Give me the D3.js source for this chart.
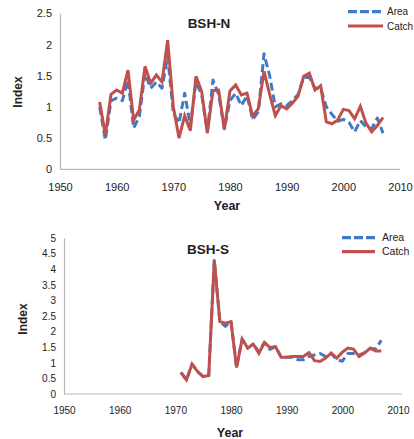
<!DOCTYPE html>
<html><head><meta charset="utf-8">
<script src="https://cdn.jsdelivr.net/npm/d3@7"></script>
<style>
html,body{margin:0;padding:0;background:#fff;}
svg{display:block;}
text{font-family:"Liberation Sans",Arial,sans-serif;fill:#222;}
</style></head>
<body>
<svg id="c" width="414" height="439"></svg>
<script>
// ---- Data ----
const yearsN = d3.range(1957, 2008);
const areaN = [1.00,0.47,1.10,1.14,1.10,1.43,0.66,0.85,1.54,1.30,1.40,1.30,1.81,0.90,0.74,1.22,0.70,1.40,1.20,0.60,1.43,1.20,0.65,1.10,1.22,1.02,1.18,0.80,0.92,1.85,1.50,1.00,1.05,1.02,1.10,1.20,1.47,1.47,1.30,1.30,1.00,0.88,0.77,0.80,0.75,0.60,0.78,0.68,0.65,0.82,0.58];
const catchN = [1.08,0.55,1.20,1.27,1.22,1.59,0.79,0.95,1.65,1.38,1.51,1.40,2.07,1.00,0.50,0.86,0.62,1.49,1.25,0.58,1.26,1.27,0.64,1.26,1.35,1.19,1.22,0.85,0.97,1.57,1.20,0.86,1.02,0.97,1.06,1.17,1.49,1.54,1.27,1.34,0.76,0.73,0.79,0.96,0.94,0.81,1.01,0.74,0.60,0.70,0.83];

const yearsS = d3.range(1971, 2008);
const areaS = [0.69,0.45,0.96,0.72,0.56,0.59,4.28,2.32,2.17,2.32,0.85,1.76,1.47,1.60,1.35,1.65,1.43,1.52,1.18,1.18,1.18,1.10,1.10,1.20,1.25,1.30,1.20,1.30,1.10,1.05,1.30,1.30,1.25,1.33,1.45,1.45,1.72];
const catchS = [0.69,0.45,0.96,0.72,0.56,0.59,4.28,2.32,2.27,2.32,0.85,1.76,1.47,1.60,1.30,1.65,1.49,1.52,1.18,1.18,1.20,1.20,1.20,1.33,1.07,1.04,1.15,1.31,1.15,1.34,1.47,1.44,1.20,1.31,1.47,1.38,1.38];

const xTicks = [1950,1960,1970,1980,1990,2000,2010];
const yTicksN = [0,0.5,1,1.5,2,2.5];
const yTicksS = [0,0.5,1,1.5,2,2.5,3,3.5,4,4.5,5];
const seriesNames = ["Area","Catch"];

const BLUE = "#4279c4", RED = "#c0504d", AXIS = "#b8b8b8";
const svg = d3.select("#c");

function panel(cfg){
  const g = svg.append("g");
  const x = d3.scaleLinear().domain([1950,2010]).range([cfg.x0,cfg.x1]);
  const y = d3.scaleLinear().domain([0,cfg.ymax]).range([cfg.y0,cfg.y1]);
  const xa = g.append("g").attr("transform",`translate(0,${cfg.y0})`)
    .call(d3.axisBottom(x).tickValues(xTicks).tickSize(0).tickPadding(cfg.xpad).tickFormat(d3.format("d")));
  xa.select(".domain").attr("stroke",AXIS).attr("stroke-width",1.2).attr("d",`M${cfg.x0},0H${cfg.xend}`);
  xa.selectAll("text").style("font-size",cfg.tickFont+"px").attr("fill","#222");
  const ya = g.append("g").attr("transform",`translate(${cfg.x0},0)`)
    .call(d3.axisLeft(y).tickValues(cfg.yTicks).tickSize(0).tickPadding(cfg.ypad).tickFormat(d=>String(d)));
  ya.select(".domain").attr("stroke",AXIS).attr("stroke-width",1.2);
  ya.selectAll("text").style("font-size",cfg.tickFont+"px").attr("fill","#222");

  const line = d3.line().x(d=>x(d[0])).y(d=>y(d[1]));
  g.append("path").datum(cfg.years.map((yr,i)=>[yr,cfg.area[i]]))
    .attr("d",line).attr("fill","none").attr("stroke",BLUE).attr("stroke-width",3)
    .attr("stroke-dasharray","8,4").attr("stroke-linejoin","round");
  g.append("path").datum(cfg.years.map((yr,i)=>[yr,cfg.catch_[i]]))
    .attr("d",line).attr("fill","none").attr("stroke",RED).attr("stroke-width",3)
    .attr("stroke-linejoin","miter");

  g.append("text").attr("x",cfg.titleX).attr("y",cfg.titleY).attr("text-anchor","middle")
    .style("font-size","13.5px").style("font-weight","bold").text(cfg.title);
  g.append("text").attr("x",cfg.yearX).attr("y",cfg.yearY).attr("text-anchor","middle")
    .style("font-size","12.5px").style("font-weight","bold").text("Year");
  g.append("text").attr("transform",`translate(${cfg.idxX},${cfg.idxY}) rotate(-90)`).attr("text-anchor","middle")
    .attr("dy","0.35em").style("font-size","12px").style("font-weight","bold").text("Index");

  const lg = g.append("g");
  seriesNames.forEach((nm,i)=>{
    const ly = cfg.legY + i*cfg.legStep;
    lg.append("line").attr("x1",cfg.legX0).attr("x2",cfg.legX1).attr("y1",ly).attr("y2",ly)
      .attr("stroke",i===0?BLUE:RED).attr("stroke-width",3.2)
      .attr("stroke-dasharray",i===0?"9,3":null);
    lg.append("text").attr("x",cfg.legTX).attr("y",ly).attr("dy","0.35em")
      .style("font-size",cfg.legFont+"px").text(nm);
  });
}

panel({x0:60,x1:400,xend:400,y0:169.3,y1:13.3,ymax:2.5,yTicks:yTicksN,years:yearsN,area:areaN,catch_:catchN,
  xpad:14,ypad:8,tickFont:11,title:"BSH-N",titleX:209,titleY:28,yearX:227,yearY:209.5,idxX:18,idxY:92,
  legX0:348,legX1:383,legTX:387,legY:11.7,legStep:14.3,legFont:10});
panel({x0:64,x1:398,xend:402,y0:394,y1:238,ymax:5,yTicks:yTicksS,years:yearsS,area:areaS,catch_:catchS,
  xpad:13,ypad:8,tickFont:10,title:"BSH-S",titleX:208,titleY:254,yearX:230,yearY:436.5,idxX:23,idxY:319,
  legX0:342,legX1:375,legTX:382,legY:237.7,legStep:14,legFont:10.5});
</script>
</body></html>
